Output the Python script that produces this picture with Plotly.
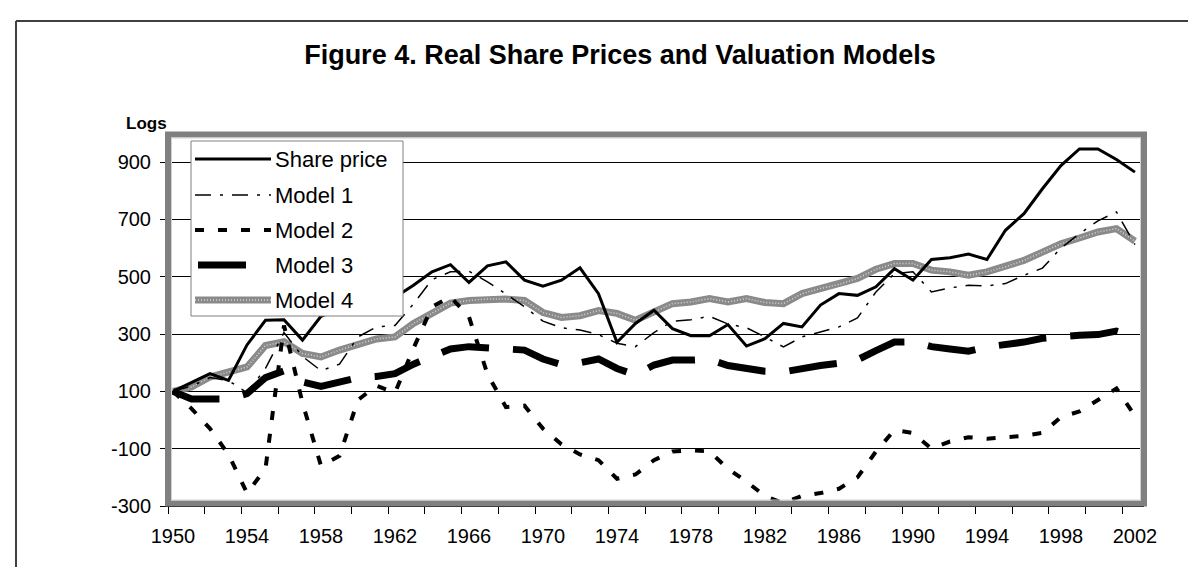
import plotly.graph_objects as go

years = list(range(1950, 2003))

share_price = [100, 130, 162, 138, 262, 348, 350, 279, 362, 388,
               402, 414, 428, 470, 517, 542, 480, 538, 552, 488,
               467, 488, 531, 441, 271, 337, 383, 319, 294, 294,
               333, 258, 284, 337, 325, 401, 441, 435, 465, 528,
               488, 560, 566, 579, 560, 662, 720, 807, 888, 946,
               946, 909, 865]

model1 = [100, 118, 148, 138, 95, 180, 305, 222, 172, 195,
          290, 325, 330, 405, 490, 517, 519, 482, 440, 395,
          345, 322, 314, 298, 268, 256, 305, 345, 350, 362,
          335, 322, 290, 255, 290, 308, 325, 356, 447, 511,
          517, 447, 461, 470, 468, 476, 505, 530, 600, 650,
          695, 726, 612]

model2 = [100, 40, -30, -120, -255, -170, 330, 60, -160, -125,
          70, 120, 95, 250, 395, 430, 360, 160, 45, 50,
          -30, -85, -120, -140, -205, -190, -140, -110, -105, -110,
          -170, -215, -265, -290, -265, -255, -240, -200, -110, -35,
          -45, -100, -75, -60, -65, -60, -55, -45, 10, 30,
          70, 110, 15]

model3 = [100, 73, 73, 73, 92, 148, 172, 133, 117, 135,
          148, 152, 162, 195, 222, 248, 256, 253, 250, 244,
          213, 193, 200, 213, 180, 157, 192, 209, 209, 212,
          190, 178, 170, 168, 182, 190, 198, 210, 242, 272,
          273, 256, 248, 240, 255, 262, 272, 285, 292, 296,
          298, 310, 290]

model4 = [100, 115, 150, 168, 185, 260, 273, 232, 220, 244,
          265, 283, 290, 337, 372, 408, 417, 422, 422, 417,
          375, 358, 364, 382, 372, 348, 377, 406, 412, 424,
          412, 424, 410, 406, 441, 459, 473, 494, 526, 546,
          546, 523, 517, 505, 517, 534, 557, 586, 615, 635,
          656, 668, 624]

y_ticks = [-300, -100, 100, 300, 500, 700, 900]
x_ticks = list(range(1950, 2003, 4))

FONT = "Arial, 'Liberation Sans', sans-serif"

# plot area in pixels
W_FIG, H_FIG = 1196, 567
L, R, T, B = 160, 1136, 126, 498
PW, PH = R - L, B - T


def xp(px):
    return (px - L) / PW


def yp(py):
    return (B - py) / PH


styles = {
    "Share price": dict(color="black", width=3, dash="solid"),
    "Model 1": dict(color="black", width=1.5, dash="16px,9px,3px,9px"),
    "Model 2": dict(color="black", width=4, dash="9px,14px"),
    "Model 3": dict(color="black", width=7, dash="48px,24px"),
    "Model 4": dict(color="#8a8a8a", width=7, dash="solid"),
}
texture = dict(color="#d6d6d6", width=1.5, dash="1px,2px")

fig = go.Figure()
series = [("Model 4", model4), ("Model 3", model3), ("Model 2", model2),
          ("Model 1", model1), ("Share price", share_price)]
for name, vals in series:
    fig.add_trace(go.Scatter(x=years, y=vals, mode="lines", name=name,
                             line=styles[name], showlegend=False))
    if name == "Model 4":
        fig.add_trace(go.Scatter(x=years, y=vals, mode="lines", name=name,
                                 line=texture, showlegend=False,
                                 hoverinfo="skip"))

shapes = []
# outer chart frame (top and left edges)
shapes.append(dict(type="line", xref="paper", yref="paper",
                   x0=xp(8), x1=xp(1200), y0=yp(13), y1=yp(13),
                   line=dict(color="#404040", width=2)))
shapes.append(dict(type="line", xref="paper", yref="paper",
                   x0=xp(8), x1=xp(8), y0=yp(13), y1=yp(570),
                   line=dict(color="#404040", width=2)))
# plot area border (gray, thick)
shapes.append(dict(type="rect", xref="paper", yref="paper",
                   x0=xp(160), x1=xp(1136), y0=yp(495.5), y1=yp(126.5),
                   line=dict(color="#808080", width=6), layer="above"))
shapes.append(dict(type="rect", xref="paper", yref="paper",
                   x0=xp(163.5), x1=xp(1132.5), y0=yp(492), y1=yp(130),
                   line=dict(color="#d0d0d0", width=1), layer="above"))

# legend box
shapes.append(dict(type="rect", xref="paper", yref="paper",
                   x0=xp(183), x1=xp(395), y0=yp(308), y1=yp(133),
                   fillcolor="white", line=dict(color="#808080", width=1),
                   layer="above"))
leg_names = ["Share price", "Model 1", "Model 2", "Model 3", "Model 4"]
leg_y = [151, 187, 222, 257, 292]
annotations = []
for name, ly in zip(leg_names, leg_y):
    st = styles[name]
    x0, x1 = 187, 263
    if name == "Model 3":
        x0, x1 = 190, 242
    shapes.append(dict(type="line", xref="paper", yref="paper",
                       x0=xp(x0), x1=xp(x1), y0=yp(ly), y1=yp(ly),
                       line=dict(color=st["color"], width=st["width"],
                                 dash=st["dash"]), layer="above"))
    if name == "Model 4":
        shapes.append(dict(type="line", xref="paper", yref="paper",
                           x0=xp(x0), x1=xp(x1), y0=yp(ly), y1=yp(ly),
                           line=texture, layer="above"))
    annotations.append(dict(text=name, xref="paper", yref="paper",
                            x=xp(265), y=yp(ly), xanchor="left",
                            yanchor="middle", showarrow=False,
                            font=dict(family=FONT, size=22, color="black")))

annotations.append(dict(text="<b>Logs</b>", xref="paper", yref="paper",
                        x=xp(138), y=yp(115), xanchor="center",
                        yanchor="middle", showarrow=False,
                        font=dict(family=FONT, size=17, color="black")))

fig.update_layout(
    width=W_FIG, height=H_FIG,
    margin=dict(l=L, r=W_FIG - R, t=T, b=H_FIG - B, pad=0),
    paper_bgcolor="white", plot_bgcolor="white",
    font=dict(family=FONT, color="black"),
    title=dict(text="Figure 4. Real Share Prices and Valuation Models",
               x=612 / W_FIG, xref="container", xanchor="center",
               y=1 - 47 / H_FIG, yref="container", yanchor="middle",
               font=dict(family=FONT, size=27, color="black",
                         weight="bold")),
    shapes=shapes,
    annotations=annotations,
    showlegend=False,
)

fig.update_xaxes(
    range=[1949.73, 2002.49], tickvals=x_ticks,
    ticktext=[str(v) for v in x_ticks],
    ticks="", ticklen=0, showgrid=False, zeroline=False,
    showline=True, linecolor="black", linewidth=1,
    ticklabelstandoff=12,
    tickfont=dict(family=FONT, size=20, color="black"),
    minor=dict(tick0=1949.73, dtick=1.984, ticks="outside", ticklen=7,
               tickcolor="black", tickwidth=1, showgrid=False),
)
fig.update_yaxes(
    range=[-300, 998], tickvals=y_ticks,
    ticktext=[str(v) for v in y_ticks],
    ticks="outside", ticklen=7, tickcolor="black", tickwidth=1,
    showgrid=True, gridcolor="black", gridwidth=1, zeroline=False,
    showline=True, linecolor="black", linewidth=1,
    ticklabelstandoff=5,
    tickfont=dict(family=FONT, size=20, color="black"),
)

fig.write_html("out.html")
